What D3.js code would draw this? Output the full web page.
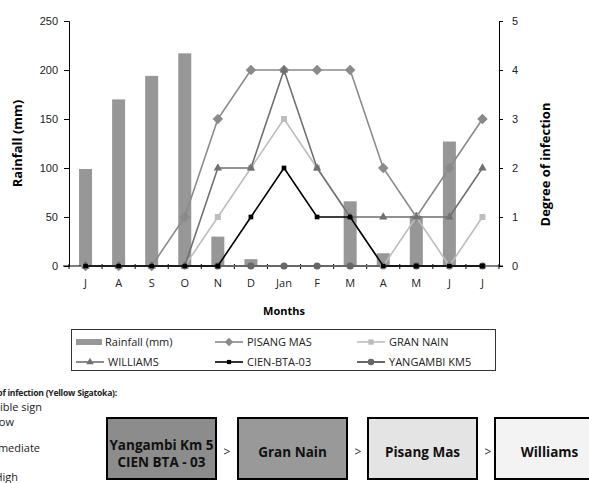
<!DOCTYPE html>
<html>
<head>
<meta charset="utf-8">
<script src="https://cdn.jsdelivr.net/npm/d3@7"></script>
<style>
  body { margin: 0; background: #fff; }
  svg { display: block; font-family: "Open Sans", sans-serif; }
</style>
</head>
<body>
<div class="container"></div>
<script>
// Data
const months = ['J', 'A', 'S', 'O', 'N', 'D', 'Jan', 'F', 'M', 'A', 'M', 'J', 'J']
const rainfall = [99, 170, 194, 217, 30, 7, 1, 0, 66, 13, 51, 127, 0]
const pisangMas = [0, 0, 0, 1, 3, 4, 4, 4, 4, 2, 1, 2, 3]
const granNain = [0, 0, 0, 0, 1, 2, 3, 2, 1, 0, 1, 0, 1]
const williams = [0, 0, 0, 0, 2, 2, 4, 2, 1, 1, 1, 1, 2]
const cienBta = [0, 0, 0, 0, 0, 1, 2, 1, 1, 0, 0, 0, 0]
const yangambi = [0, 0, 0, 0, 0, 0, 0, 0, 0, 0, 0, 0, 0]
const rainTicks = [0, 50, 100, 150, 200, 250]
const degreeTicks = [0, 1, 2, 3, 4, 5]
const rankBoxes = [
    {label: ['Yangambi Km 5', 'CIEN BTA - 03'], fill: '#8c8c8c'},
    {label: ['Gran Nain'], fill: '#999999'},
    {label: ['Pisang Mas'], fill: '#e4e4e4'},
    {label: ['Williams'], fill: '#f3f3f3'}
]
const scaleText = [
    'Degree of infection (Yellow Sigatoka):',
    '0 = No visible sign',
    '1 = Low',
    '3 = Intermediate',
    '5 = High'
]

const width = 589
const height = 483
const margin = {top: 21, right: 90, bottom: 217, left: 69}

const svg = d3.select('.container')
    .append('svg')
    .attr('width', width)
    .attr('height', height)

const x = d3.scaleBand()
    .domain(d3.range(months.length))
    .range([margin.left, width - margin.right])

const yRain = d3.scaleLinear()
    .domain([0, 250])
    .range([height - margin.bottom, margin.top])

const yDeg = d3.scaleLinear()
    .domain([0, 5])
    .range([height - margin.bottom, margin.top])

const baseY = yRain(0)

// bars
svg.append('g')
    .selectAll('rect')
    .data(rainfall)
    .enter()
    .append('rect')
        .attr('x', (d, i) => x(i) + x.bandwidth() / 2 - 6.5)
        .attr('y', d => yRain(d))
        .attr('width', 13)
        .attr('height', d => baseY - yRain(d))
        .style('fill', '#979797')

// left axis
const leftAxis = svg.append('g')
    .attr('transform', `translate(${margin.left},0)`)
    .call(d3.axisLeft(yRain).tickValues(rainTicks).tickSize(5).tickPadding(6))
leftAxis.select('.domain').attr('stroke', '#000')
leftAxis.selectAll('text').style('font-size', '11px').style('fill', '#222')

// right axis
const rightAxis = svg.append('g')
    .attr('transform', `translate(${width - margin.right},0)`)
    .call(d3.axisRight(yDeg).tickValues(degreeTicks).tickFormat(d3.format('d')).tickSize(4).tickPadding(9))
rightAxis.select('.domain').attr('stroke', '#000')
rightAxis.selectAll('text').style('font-size', '11px').style('fill', '#222')

// x axis line with small ticks at the band edges
svg.append('line')
    .attr('x1', margin.left - 6).attr('x2', width - margin.right + 4)
    .attr('y1', baseY).attr('y2', baseY)
    .attr('stroke', '#000')
svg.append('g')
    .selectAll('line')
    .data(d3.range(months.length + 1))
    .enter()
    .append('line')
        .attr('x1', i => margin.left + i * x.step())
        .attr('x2', i => margin.left + i * x.step())
        .attr('y1', baseY - 2)
        .attr('y2', baseY + 3)
        .attr('stroke', '#000')

svg.append('g')
    .selectAll('text')
    .data(months)
    .enter()
    .append('text')
        .attr('x', (d, i) => x(i) + x.bandwidth() / 2)
        .attr('y', baseY + 21)
        .attr('text-anchor', 'middle')
        .style('font-size', '11px')
        .style('fill', '#222')
        .text(d => d)

// series lines
const series = [
    {name: 'YANGAMBI KM5', values: yangambi, color: '#666666', marker: 'circle', size: 40, width: 2},
    {name: 'PISANG MAS', values: pisangMas, color: '#8a8a8a', marker: 'diamond', size: 55, width: 1.6},
    {name: 'GRAN NAIN', values: granNain, color: '#bdbdbd', marker: 'square', size: 36, width: 1.6},
    {name: 'WILLIAMS', values: williams, color: '#707070', marker: 'triangle', size: 30, width: 1.6},
    {name: 'CIEN-BTA-03', values: cienBta, color: '#000000', marker: 'square', size: 22, width: 1.6}
]
const symbolOf = {
    circle: d3.symbolCircle,
    diamond: d3.symbolDiamond2,
    square: d3.symbolSquare,
    triangle: d3.symbolTriangle
}

const line = d3.line()
    .x((d, i) => x(i) + x.bandwidth() / 2)
    .y(d => yDeg(d))

series.forEach(s => {
    svg.append('path')
        .datum(s.values)
        .attr('d', line)
        .attr('fill', 'none')
        .attr('stroke', s.color)
        .attr('stroke-width', s.width)
    svg.append('g')
        .selectAll('path')
        .data(s.values)
        .enter()
        .append('path')
            .attr('transform', (d, i) => `translate(${x(i) + x.bandwidth() / 2},${yDeg(d)})`)
            .attr('d', d3.symbol().type(symbolOf[s.marker]).size(s.marker == 'diamond' ? 70 : s.size))
            .attr('fill', s.color)
})

// axis titles
svg.append('text')
    .attr('transform', `translate(22,${(margin.top + baseY) / 2}) rotate(-90)`)
    .attr('text-anchor', 'middle')
    .style('font-size', '13px')
    .style('font-weight', 'bold')
    .text('Rainfall (mm)')

svg.append('text')
    .attr('transform', `translate(550,${(margin.top + baseY) / 2 + 21}) rotate(-90)`)
    .attr('text-anchor', 'middle')
    .style('font-size', '13px')
    .style('font-weight', 'bold')
    .text('Degree of infection')

svg.append('text')
    .attr('x', 284)
    .attr('y', 315)
    .attr('text-anchor', 'middle')
    .style('font-size', '11px')
    .style('font-weight', 'bold')
    .text('Months')

// legend
const legend = svg.append('g')
legend.append('rect')
    .attr('x', 71.5).attr('y', 329.5)
    .attr('width', 424).attr('height', 41)
    .attr('fill', 'none')
    .attr('stroke', '#333')

const legendItems = [
    {name: 'Rainfall (mm)', bar: true},
    series[1], series[2], series[3], series[4], series[0]
]
const colX = [76, 215, 357]
legendItems.forEach((d, i) => {
    const lx = colX[i % 3]
    const ly = i < 3 ? 342 : 362
    const g = legend.append('g').attr('transform', `translate(${lx},${ly})`)
    if (d.bar) {
        g.append('rect').attr('x', 0).attr('y', -3).attr('width', 26).attr('height', 6).attr('fill', '#979797')
    } else {
        g.append('line').attr('x1', 0).attr('x2', 28).attr('y1', 0).attr('y2', 0)
            .attr('stroke', d.color).attr('stroke-width', d.width)
        g.append('path')
            .attr('transform', 'translate(14,0)')
            .attr('d', d3.symbol().type(symbolOf[d.marker]).size(d.marker == 'diamond' ? 45 : d.size * 0.8))
            .attr('fill', d.color)
    }
    g.append('text')
        .attr('x', d.bar ? 29 : 32)
        .attr('y', 4)
        .style('font-size', '11px')
        .style('fill', '#222')
        .text(d.name)
})

// infection scale text, partly off the left edge
const scaleEnds = [117, 42, 14, 40, 18]
const scaleY = [396, 411, 426, 452, 481]
svg.append('g')
    .selectAll('text')
    .data(scaleText)
    .enter()
    .append('text')
        .attr('x', (d, i) => scaleEnds[i])
        .attr('y', (d, i) => scaleY[i])
        .attr('text-anchor', 'end')
        .style('font-size', (d, i) => i == 0 ? '8.6px' : '11px')
        .style('letter-spacing', (d, i) => i == 0 ? '-0.25px' : '0px')
        .style('font-weight', (d, i) => i == 0 ? 'bold' : 'normal')
        .style('fill', '#222')
        .text(d => d)

// ranking boxes
const boxX = [107, 238, 368, 495]
const boxes = svg.append('g')
rankBoxes.forEach((b, i) => {
    boxes.append('rect')
        .attr('x', boxX[i]).attr('y', 418)
        .attr('width', 109).attr('height', 61)
        .attr('fill', b.fill)
        .attr('stroke', '#000')
        .attr('stroke-width', 2)
    b.label.forEach((t, j) => {
        boxes.append('text')
            .attr('x', boxX[i] + 54.5)
            .attr('y', b.label.length == 1 ? 457 : 450 + j * 17)
            .attr('text-anchor', 'middle')
            .style('font-size', '13.5px')
            .style('font-weight', 'bold')
            .style('fill', '#111')
            .text(t)
    })
    if (i < rankBoxes.length - 1) {
        boxes.append('text')
            .attr('x', boxX[i] + 120)
            .attr('y', 456)
            .attr('text-anchor', 'middle')
            .style('font-size', '12px')
            .style('fill', '#222')
            .text('>')
    }
})
</script>
</body>
</html>
